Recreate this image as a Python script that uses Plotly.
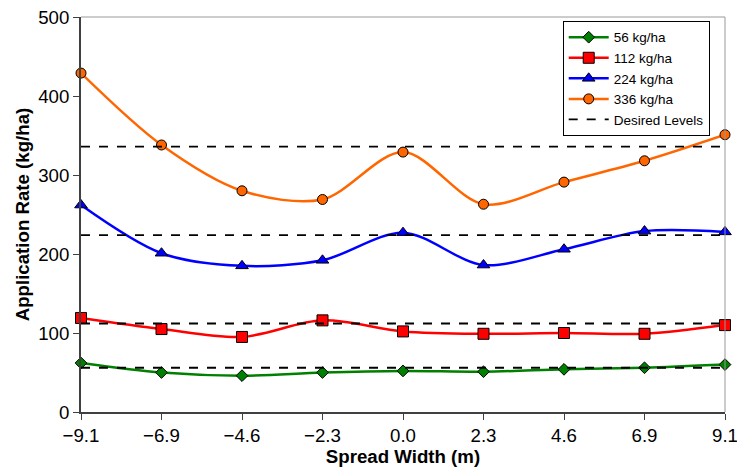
import plotly.graph_objects as go

x_labels = ["\u22129.1", "\u22126.9", "\u22124.6", "\u22122.3", "0.0", "2.3", "4.6", "6.9", "9.1"]
rate_56 = [62, 50, 46, 50, 52, 51, 54, 56, 60]
rate_112 = [119, 105, 95, 116, 102, 99, 100, 99, 110]
rate_224 = [262, 201, 185, 192, 227, 186, 206, 229, 228]
rate_336 = [429, 338, 280, 269, 329, 263, 291, 318, 351]
desired_levels = [56, 112, 224, 336]

series = [
    ("56 kg/ha", rate_56, "#008000", "diamond", 9),
    ("112 kg/ha", rate_112, "#FF0000", "square", 11),
    ("224 kg/ha", rate_224, "#0000FF", "triangle-up", 11),
    ("336 kg/ha", rate_336, "#FF6600", "circle", 10),
]

FS = 18.67

xi = list(range(len(x_labels)))
fig = go.Figure()
for name, vals, col, sym, sz in series:
    fig.add_trace(go.Scatter(
        x=xi, y=vals, name=name, mode="lines+markers",
        line=dict(color=col, width=2.5, shape="spline", smoothing=0.9),
        marker=dict(symbol=sym, size=sz, color=col, line=dict(color="#000000", width=1)),
        cliponaxis=False,
    ))

dx, dy = [], []
for lvl in desired_levels:
    dx += [xi[0], xi[-1], None]
    dy += [lvl, lvl, None]
fig.add_trace(go.Scatter(
    x=dx, y=dy, name="Desired Levels", mode="lines",
    line=dict(color="#000000", width=1.8, dash="dash"),
))

fig.update_layout(
    width=745, height=474,
    margin=dict(l=81, r=20, t=17, b=62, autoexpand=False),
    paper_bgcolor="white", plot_bgcolor="white",
    font=dict(family="Liberation Sans, Arial, sans-serif", color="#000000"),
    showlegend=True,
    legend=dict(
        x=0.748, y=0.99, xanchor="left", yanchor="top",
        bordercolor="#000000", borderwidth=1, bgcolor="white",
        font=dict(size=13.5), tracegroupgap=0, itemwidth=40,
    ),
    xaxis=dict(
        range=[0, 8], tickmode="array", tickvals=xi, ticktext=x_labels,
        showgrid=False, zeroline=False, showline=True, linecolor="#404040", linewidth=2,
        ticks="outside", ticklen=6, tickcolor="#404040",
        tickfont=dict(size=FS), automargin=False,
        title=dict(text="<b>Spread Width (m)</b>", font=dict(size=FS), standoff=2),
    ),
    yaxis=dict(
        range=[0, 500], tickvals=[0, 100, 200, 300, 400, 500],
        showgrid=False, zeroline=False, showline=True, linecolor="#404040", linewidth=2,
        ticks="outside", ticklen=6, tickcolor="#404040",
        tickfont=dict(size=FS), automargin=False,
        title=dict(text="<b>Application Rate (kg/ha)</b>", font=dict(size=FS), standoff=4),
    ),
    shapes=[
        dict(type="line", xref="paper", yref="paper", x0=0, x1=1, y0=1, y1=1,
             line=dict(color="#999999", width=1)),
        dict(type="line", xref="paper", yref="paper", x0=1, x1=1, y0=0, y1=1,
             line=dict(color="#999999", width=1)),
    ],
)

fig.write_html("out.html", config={"displayModeBar": False},
               post_script="document.body.style.margin='0';document.body.style.overflow='hidden';")
